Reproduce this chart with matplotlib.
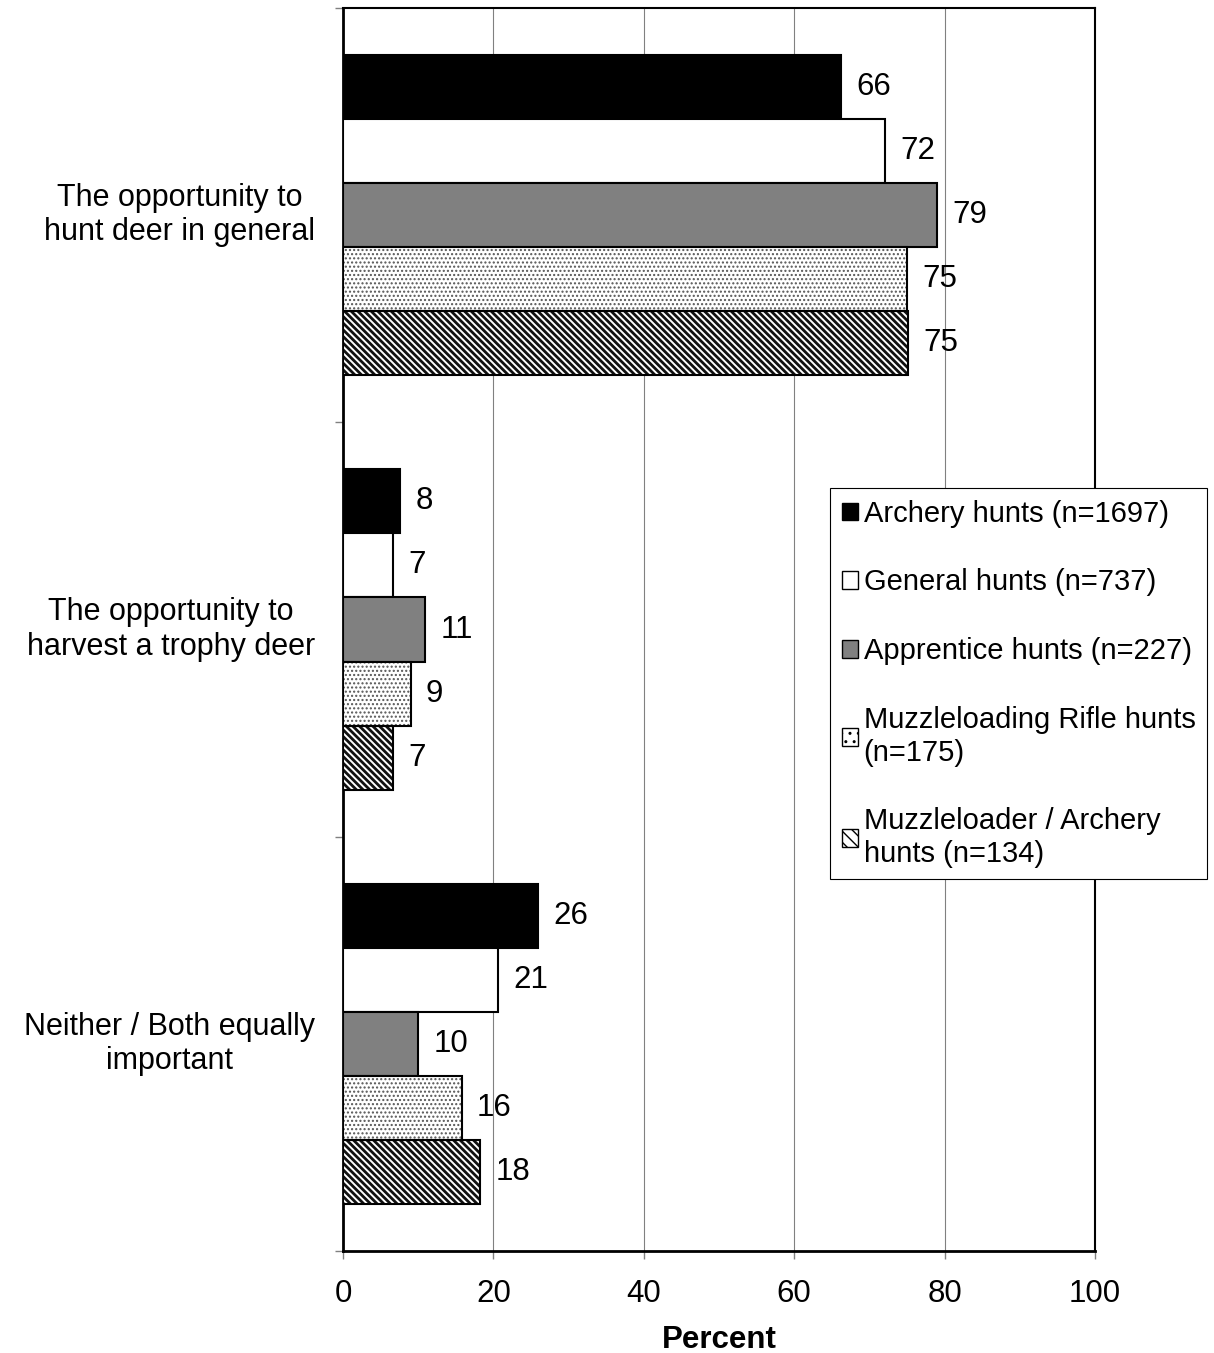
import matplotlib
matplotlib.use('Agg')
import matplotlib.pyplot as plt
from matplotlib.patches import Patch
import numpy as np

plt.rcParams['font.family'] = ['Liberation Sans', 'DejaVu Sans']

# Dados
categorias = ['The opportunity to\nhunt deer in general',
              'The opportunity to\nharvest a trophy deer',
              'Neither / Both equally\nimportant']
series = ['Archery hunts (n=1697)', 'General hunts (n=737)',
          'Apprentice hunts (n=227)', 'Muzzleloading Rifle hunts\n(n=175)',
          'Muzzleloader / Archery\nhunts (n=134)']
archery = [66.2, 7.6, 25.9]
general = [72.1, 6.6, 20.6]
apprentice = [79.0, 10.9, 10.0]
muzzle_rifle = [75.0, 9.0, 15.8]
muzzle_archery = [75.1, 6.6, 18.2]
valores = [archery, general, apprentice, muzzle_rifle, muzzle_archery]

fig = plt.figure(figsize=(12.14, 13.53), dpi=100)
ax = fig.add_axes([343/1214, 1 - 1251/1353, 752/1214, 1243/1353])

n_cat = len(categorias)
y_cat = np.arange(n_cat)[::-1]  # topo = primeira categoria
h = 64/414

fs = 22.5

for i, vals in enumerate(valores):
    y = y_cat + (2 - i) * h
    if i == 0:
        ax.barh(y, vals, height=h, color='black', edgecolor='black', linewidth=1.5, zorder=3)
    elif i == 1:
        ax.barh(y, vals, height=h, color='white', edgecolor='black', linewidth=1.5, zorder=3)
    elif i == 2:
        ax.barh(y, vals, height=h, color='#808080', edgecolor='black', linewidth=1.5, zorder=3)
    elif i == 3:
        plt.rcParams['hatch.linewidth'] = 1.0
        ax.barh(y, vals, height=h, color='white', edgecolor='#555555', hatch='....', linewidth=0, zorder=3)
        ax.barh(y, vals, height=h, fill=False, edgecolor='black', linewidth=1.5, zorder=4)
    else:
        plt.rcParams['hatch.linewidth'] = 2.0
        ax.barh(y, vals, height=h, color='white', edgecolor='#111111', hatch='\\\\\\\\\\', linewidth=0, zorder=3)
        ax.barh(y, vals, height=h, fill=False, edgecolor='black', linewidth=1.5, zorder=4)
    for xv, yv in zip(vals, y):
        ax.annotate(f'{xv:.0f}', (xv, yv), xytext=(11, 0), textcoords='offset points',
                    ha='left', va='center', fontsize=fs, zorder=5)

plt.rcParams['hatch.linewidth'] = 1.0

ax.set_xlim(0, 100)
ax.set_ylim(-0.5, n_cat - 0.5)
ax.set_xticks(range(0, 101, 20))
ax.set_yticks(np.arange(-0.5, n_cat, 1))
ax.set_yticklabels([])
ax.tick_params(axis='x', labelsize=fs, length=6, width=1, color='#808080', pad=14)
ax.tick_params(axis='y', length=6, width=1, color='#808080')
ax.xaxis.grid(True, color='#808080', linewidth=0.8, zorder=0)
ax.set_axisbelow(True)

for s in ax.spines.values():
    s.set_color('black')
    s.set_linewidth(1.5)
ax.spines['left'].set_linewidth(2)
ax.spines['bottom'].set_linewidth(2)

for c, yc in zip(categorias, y_cat):
    ax.text(-28/752, yc, c, transform=ax.get_yaxis_transform(), ha='right', va='center',
            multialignment='center', fontsize=22, linespacing=1.2)

ax.set_xlabel('Percent', fontsize=fs, fontweight='bold', labelpad=12)

handles = [
    Patch(facecolor='black', edgecolor='black'),
    Patch(facecolor='white', edgecolor='black'),
    Patch(facecolor='#808080', edgecolor='black'),
    Patch(facecolor='white', edgecolor='black', hatch='..'),
    Patch(facecolor='white', edgecolor='black', hatch='\\\\\\'),
]
leg = fig.legend(handles, series, loc='upper left', bbox_to_anchor=(830/1214, 1 - 488/1353),
                 bbox_transform=fig.transFigure, fontsize=21, frameon=True, fancybox=False,
                 edgecolor='black', framealpha=1, handlelength=0.55, handleheight=0.55,
                 handletextpad=0.2, labelspacing=1.4, borderpad=0.4, borderaxespad=0)
leg.get_frame().set_linewidth(0.8)

fig.savefig('out.png', dpi=100)
